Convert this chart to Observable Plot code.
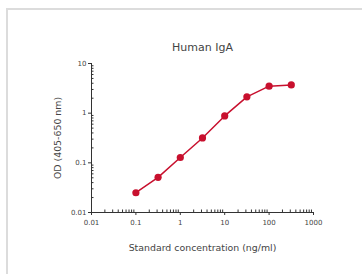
<!DOCTYPE html>
<html>
<head>
<meta charset="utf-8">
<script src="https://cdn.jsdelivr.net/npm/d3@7"></script>
<script src="https://cdn.jsdelivr.net/npm/@observablehq/plot@0.6"></script>
<style>
  html, body { margin: 0; padding: 0; background: #fff; }
  #wrap { position: relative; width: 362px; height: 274px; overflow: hidden; }
  #frame { position: absolute; left: 6px; top: 8px; width: 400px; height: 300px; border-left: 2px solid #dcdcdc; border-top: 2px solid #dcdcdc; box-sizing: border-box; }
  #chart { position: absolute; left: 0; top: 0; }
</style>
</head>
<body>
<div id="wrap"><div id="frame"></div><div id="chart"></div></div>
<script>
const concentration = [0.1, 0.316, 1, 3.16, 10, 31.6, 100, 316];
const od = [0.025, 0.051, 0.128, 0.317, 0.88, 2.13, 3.5, 3.7];
const xTicks = [0.01, 0.1, 1, 10, 100, 1000];
const xTickLabels = ["0.01", "0.1", "1", "10", "100", "1000"];
const yTicks = [0.01, 0.1, 1, 10];
const yTickLabels = ["0.01", "0.1", "1", "10"];
const title = "Human IgA";
const xLabel = "Standard concentration (ng/ml)";
const yLabel = "OD (405-650 nm)";

const minorOf = (majors) => majors.slice(0, -1).flatMap(m => [2,3,4,5,6,7,8,9].map(k => m * k));
const xMinor = minorOf(xTicks);
const yMinor = minorOf(yTicks);

const data = concentration.map((c, i) => ({c, v: od[i]}));
const red = "#c8102e";
const font = "DejaVu Sans, Verdana, sans-serif";
const axisColor = "#333";

const chart = Plot.plot({
  width: 362,
  height: 274,
  marginLeft: 91,
  marginRight: 49,
  marginTop: 63,
  marginBottom: 62,
  style: {fontFamily: font, background: "transparent", color: "#444"},
  x: {type: "log", domain: [0.01, 1000]},
  y: {type: "log", domain: [0.01, 10]},
  marks: [
    Plot.ruleY([yTicks[0]], {stroke: axisColor, strokeWidth: 1}),
    Plot.ruleX([xTicks[0]], {stroke: axisColor, strokeWidth: 1}),
    Plot.axisX(xTicks, {tickFormat: (d) => xTickLabels[xTicks.indexOf(d)], tickSize: 3, tickPadding: 5, fontSize: 7, fill: "#444", stroke: axisColor, label: null}),
    Plot.axisX(xMinor, {tickSize: 2.5, dy: -2.5, text: null, stroke: axisColor, label: null}),
    Plot.axisY(yTicks, {tickFormat: (d) => yTickLabels[yTicks.indexOf(d)], tickSize: 3, tickPadding: 2, fontSize: 7, fill: "#444", stroke: axisColor, label: null}),
    Plot.axisY(yMinor, {tickSize: 2.5, dx: 2.5, text: null, stroke: axisColor, label: null}),
    Plot.line(data, {x: "c", y: "v", stroke: red, strokeWidth: 1.5}),
    Plot.dot(data, {x: "c", y: "v", r: 3.6, fill: red, stroke: "none"}),
    Plot.text([title], {frameAnchor: "top", dy: -20, fontSize: 11, fill: "#444"}),
    Plot.text([xLabel], {frameAnchor: "bottom", dy: 38, fontSize: 9.4, fill: "#444"}),
    Plot.text([yLabel], {frameAnchor: "left", textAnchor: "middle", dx: -34, rotate: -90, fontSize: 9.4, fill: "#444"})
  ]
});
document.getElementById("chart").appendChild(chart);
</script>
</body>
</html>
